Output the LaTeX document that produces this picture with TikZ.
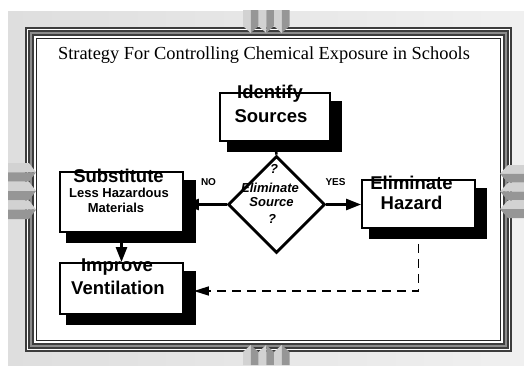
\documentclass[tikz,border=0pt]{standalone}
\usepackage{fontspec}
\setmainfont{Liberation Serif}
\newfontfamily\arial{Liberation Sans}
\usetikzlibrary{shapes.geometric, arrows.meta, shadows}
\definecolor{framedark}{RGB}{60, 60, 60}
\definecolor{framemid}{RGB}{140, 140, 140}
\definecolor{tablight}{RGB}{210, 210, 210}
\definecolor{tabdark}{RGB}{150, 150, 150}
\definecolor{paperleft}{RGB}{222, 222, 222}
\definecolor{paperright}{RGB}{240, 240, 240}
\tikzset{
    procbox/.style={
        rectangle, draw=black, line width=1.8pt, fill=white, inner sep=0pt,
        drop shadow={shadow xshift=9pt, shadow yshift=-9pt, shadow scale=1.05, opacity=1, fill=black}
    },
    decision/.style={
        diamond, aspect=1, draw=black, line width=2.8pt, fill=white, inner sep=0pt,
        minimum width=97pt, minimum height=97pt
    },
    bigtext/.style={anchor=base, inner sep=0pt, font=\arial\bfseries\fontsize{18.5}{20}\selectfont},
    smalltext/.style={anchor=base, inner sep=0pt, font=\arial\bfseries\fontsize{13}{15}\selectfont},
    dectext/.style={anchor=base, inner sep=0pt, font=\arial\bfseries\itshape\fontsize{13}{15}\selectfont},
    answer/.style={anchor=base, inner sep=0pt, font=\arial\bfseries\fontsize{10}{12}\selectfont},
    flowarrow/.style={-{Triangle[length=15pt, width=11pt]}, line width=2.6pt},
    dasharrow/.style={-{Triangle[length=15pt, width=9pt]}, line width=1.6pt, dash pattern=on 9pt off 6pt},
}
\begin{document}
\begin{tikzpicture}[x=1pt, y=-1pt]
    \useasboundingbox (0,0) rectangle (524,365);

    % background and frame
    \fill[left color=paperleft, right color=paperright] (8,11) rectangle (524,365);
    \foreach \d/\c in {0/framedark, 2/white, 3/framedark, 5/framemid, 7/framedark, 9/white, 11/black!85, 12/white}
        \fill[\c] (25+\d, 27+\d) rectangle (512-\d, 352-\d);

    % tabs
    \foreach \x in {243, 258.5, 274} {
        \fill[tablight] (\x,10) -- (\x+7.75,10) -- (\x+7.75,33) -- (\x,26) -- cycle;
        \fill[tabdark] (\x+7.75,10) -- (\x+15.5,10) -- (\x+15.5,26) -- (\x+7.75,33) -- cycle;
        \fill[tablight] (\x,365) -- (\x+7.75,365) -- (\x+7.75,345) -- (\x,352) -- cycle;
        \fill[tabdark] (\x+7.75,365) -- (\x+15.5,365) -- (\x+15.5,352) -- (\x+7.75,345) -- cycle;
    }
    \foreach \y in {163, 181.7, 200.4} {
        \fill[tablight] (8,\y) -- (29,\y) -- (36,\y+9.3) -- (8,\y+9.3) -- cycle;
        \fill[tabdark] (8,\y+9.3) -- (36,\y+9.3) -- (29,\y+18.6) -- (8,\y+18.6) -- cycle;
    }
    \foreach \y in {165, 182.7, 200.4} {
        \fill[tablight] (524,\y) -- (508,\y) -- (500,\y+8.8) -- (524,\y+8.8) -- cycle;
        \fill[tabdark] (524,\y+8.8) -- (500,\y+8.8) -- (508,\y+17.7) -- (524,\y+17.7) -- cycle;
    }

    \node[anchor=base, inner sep=0pt, font=\fontsize{18.4}{22}\selectfont] (title) at (264,59)
        {Strategy For Controlling Chemical Exposure in Schools};

    % boxes
    \node[procbox, minimum width=110pt, minimum height=48pt] (ident) at (275,117) {};
    \node[procbox, minimum width=123pt, minimum height=60pt] (subst) at (121.5,202) {};
    \node[procbox, minimum width=113pt, minimum height=48pt] (elim) at (418.5,204) {};
    \node[procbox, minimum width=123pt, minimum height=51pt] (vent) at (121.5,288.5) {};
    \node[decision] (dec) at (276.5,204.5) {};

    \node[bigtext] (identtop) at (270,98) {Identify};
    \node[bigtext] (identbot) at (271,122) {Sources};
    \node[bigtext] (substtop) at (118.5,182) {Substitute};
    \node[smalltext] (substmid) at (119,197.5) {Less Hazardous};
    \node[smalltext] (substbot) at (116,212) {Materials};
    \node[bigtext] (elimtop) at (411.5,189) {Eliminate};
    \node[bigtext] (elimbot) at (411.5,209) {Hazard};
    \node[bigtext] (venttop) at (117,271) {Improve};
    \node[bigtext] (ventbot) at (118,294) {Ventilation};

    \node[dectext] (decq1) at (274,173) {?};
    \node[dectext] (decl1) at (270,192) {Eliminate};
    \node[dectext] (decl2) at (271.5,206) {Source};
    \node[dectext] (decq2) at (272,223) {?};

    \node[answer] (no) at (208.5,185) {NO};
    \node[answer] (yes) at (335.5,185) {YES};

    % connectors
    \draw[line width=2.5pt] (ident.south) -- (dec.north);
    \draw[flowarrow] (dec.west) -- (dec.west -| subst.east);
    \draw[flowarrow] (dec.east) -- (dec.east -| elim.west);
    \draw[flowarrow] (subst.south) -- (vent.north);
    \draw[dasharrow] (elim.south) |- ([xshift=10pt, yshift=-2.5pt]vent.east);
\end{tikzpicture}
\end{document}
